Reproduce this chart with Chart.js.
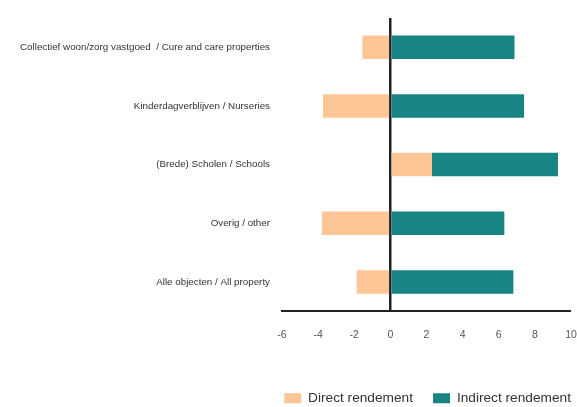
<!DOCTYPE html>
<html>
<head>
<meta charset="utf-8">
<script src="https://cdn.jsdelivr.net/npm/chart.js@4.4.0/dist/chart.umd.min.js"></script>
<style>
  html, body { margin: 0; padding: 0; background: #fff; overflow: hidden; }
  #wrap { width: 577px; height: 407px; }
  canvas { display: block; }
</style>
</head>
<body>
<div id="wrap"><canvas id="chart"></canvas></div>
<script>
var CATEGORIES = [
  'Collectief woon/zorg vastgoed  / Cure and care properties',
  'Kinderdagverblijven / Nurseries',
  '(Brede) Scholen / Schools',
  'Overig / other',
  'Alle objecten / All property'
];
var DIRECT = [-1.55, -3.73, 2.3, -3.79, -1.87];
var INDIRECT = [6.87, 7.4, 6.98, 6.31, 6.81];
var SERIES_NAMES = ['Direct rendement', 'Indirect rendement'];
var X_TICKS = [-6, -4, -2, 0, 2, 4, 6, 8, 10];

var FONT = '"Liberation Sans", Arial, sans-serif';

// legend sits further down and right than chart.js puts it
var moveLegend = {
  id: 'moveLegend',
  afterLayout: function(chart) {
    chart.legend.top += 8;
    chart.legend.bottom += 8;
    chart.legend.left += 20;
    chart.legend.right += 20;
  }
};

var ctx = document.getElementById('chart');
new Chart(ctx, {
  type: 'bar',
  data: {
    labels: CATEGORIES,
    datasets: [
      {
        label: SERIES_NAMES[0],
        data: DIRECT,
        backgroundColor: '#FCC696',
        categoryPercentage: 0.4,
        barPercentage: 1
      },
      {
        label: SERIES_NAMES[1],
        data: INDIRECT,
        backgroundColor: '#188483',
        categoryPercentage: 0.4,
        barPercentage: 1
      }
    ]
  },
  options: {
    indexAxis: 'y',
    responsive: true,
    maintainAspectRatio: false,
    animation: false,
    layout: { padding: { top: 13, right: 6, bottom: 0, left: 0 } },
    plugins: {
      tooltip: { enabled: false },
      legend: {
        position: 'bottom',
        align: 'end',
        labels: {
          boxWidth: 17,
          boxHeight: 10,
          padding: 20,
          color: '#333',
          font: { family: FONT, size: 13.7 }
        }
      }
    },
    scales: {
      x: {
        stacked: true,
        min: -6,
        max: 10,
        afterBuildTicks: function(scale) {
          scale.ticks = X_TICKS.map(function(v) { return { value: v }; });
        },
        afterFit: function(scale) {
          scale.height = 52;
          scale.paddingLeft = 0;
          scale.paddingRight = 0;
        },
        border: { display: true, color: '#222', width: 2 },
        grid: {
          drawTicks: false,
          color: function(c) { return c.tick && c.tick.value === 0 ? '#222' : 'rgba(0,0,0,0)'; },
          lineWidth: function(c) { return c.tick && c.tick.value === 0 ? 2.5 : 0; }
        },
        ticks: {
          padding: 18,
          color: '#555',
          font: { family: FONT, size: 10.5 }
        }
      },
      y: {
        stacked: true,
        afterFit: function(scale) { scale.width = 282; },
        border: { display: false },
        grid: { display: false, drawTicks: false },
        ticks: {
          padding: 12,
          color: '#333',
          font: { family: FONT, size: 9.8 }
        }
      }
    }
  },
  plugins: [moveLegend]
});
</script>
</body>
</html>
